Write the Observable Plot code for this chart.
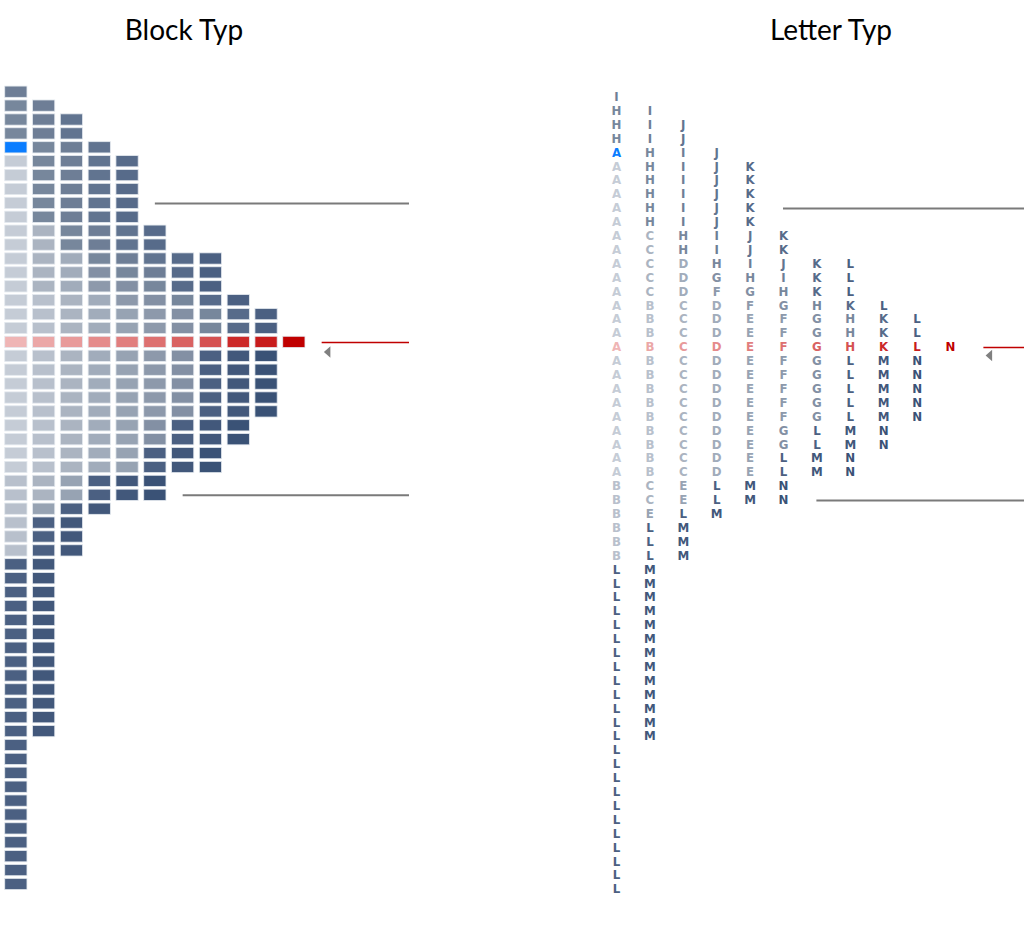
<!DOCTYPE html>
<html>
<head>
<meta charset="utf-8">
<script src="https://cdn.jsdelivr.net/npm/d3@7"></script>
<script src="https://cdn.jsdelivr.net/npm/@observablehq/plot@0.6"></script>
<style>
  html, body { margin: 0; padding: 0; background: #fff; }
  #root { position: relative; width: 1024px; height: 925px; overflow: hidden; }
  .title { position: absolute; top: 15px; font-family: Lato, "Open Sans", sans-serif; font-size: 28px; line-height: 28px; color: #000; text-align: center; }
  .panel { position: absolute; top: 80px; }
</style>
</head>
<body>
<div id="root">
  <div class="title" style="left:0px;width:368px;">Block Typ</div>
  <div class="title" style="left:640px;width:382px;">Letter Typ</div>
  <div class="panel" id="block" style="left:0px;"></div>
  <div class="panel" id="letter" style="left:590px;"></div>
</div>
<script>
// TPO periods in time order, with the highest and lowest price level (tick index) each traded
const periods    = ["A","B","C","D","E","F","G","H","I","J","K","L","M","N"];
const periodHigh = [53, 42, 47, 45, 41, 43, 44, 56, 57, 55, 52, 45, 38, 39];
const periodLow  = [30, 24, 28, 30, 27, 34, 32, 39, 44, 45, 39,  0, 11, 28];
const periodColors = ["#c5ccd6","#b8c0cc","#abb4c1","#a1acbb","#97a3b3","#8d99ab","#8390a4",
                      "#77879c","#6e7e96","#617490","#576b8a","#4b6082","#42587b","#3a5276"];
const pocColors    = ["#efb5b5","#eba7a7","#e89a9a","#e58b8b","#e17e7e","#dd7070","#d96262",
                      "#d55151","#d24444","#cf3838","#cc2929","#c81c1c","#c40e0e","#c00000"];
const pocLevel = 39;       // point of control
const vaHigh = 49;         // value area high
const vaLow = 28;          // value area low
const openLevel = 53;      // opening price (first TPO of A)
const openPeriod = "A";
const openColor = "#0a7dff";
const lineColor = "#7a7a7a";
const pocLineColor = "#c00000";

// Build TPO cells: for each level, periods that traded there, in time order
const maxLevel = d3.max(periodHigh), minLevel = d3.min(periodLow);
const cells = [];
const rowWidth = new Map();
for (let lv = maxLevel; lv >= minLevel; lv--) {
  let col = 0;
  periods.forEach((p, i) => {
    if (lv <= periodHigh[i] && lv >= periodLow[i]) {
      col++;
      let color = periodColors[i];
      if (lv === pocLevel) color = pocColors[i];
      else if (lv === openLevel && p === openPeriod) color = openColor;
      cells.push({level: lv, col, letter: p, color});
    }
  });
  rowWidth.set(lv, col);
}
const refLines = [
  {level: vaHigh, width: rowWidth.get(vaHigh), color: lineColor, sw: 2},
  {level: vaLow, width: rowWidth.get(vaLow), color: lineColor, sw: 2},
  {level: pocLevel, width: rowWidth.get(pocLevel), color: pocLineColor, sw: 1.5}
];
const pocMarker = [{level: pocLevel, width: rowWidth.get(pocLevel)}];

const leftTriangle = {
  draw(context, size) {
    const w = 6.5, h = 11.5;
    context.moveTo(-w / 2, 0);
    context.lineTo(w / 2, -h / 2);
    context.lineTo(w / 2, h / 2);
    context.closePath();
  }
};

const H = 830;
// Block panel
const blockX = [0.4299, 15.142];
const blockY = [-1.871, 57.842];
const block = Plot.plot({
  width: 409, height: H, margin: 0,
  x: {domain: blockX, axis: null},
  y: {domain: blockY, axis: null},
  color: {type: "identity"},
  marks: [
    Plot.rect(cells, {
      x1: d => d.col - 0.4, x2: d => d.col + 0.4,
      y1: d => d.level - 0.405, y2: d => d.level + 0.405,
      fill: "color", stroke: "#e4e9ef", strokeWidth: 0.8
    }),
    Plot.ruleY(refLines, {y: "level", x1: d => d.width + 1, x2: blockX[1], stroke: "color", strokeWidth: "sw"}),
    Plot.dot(pocMarker, {x: d => d.width + 1, y: "level", symbol: leftTriangle, fill: "#808080", stroke: "none", dx: 5, dy: 9.5})
  ]
});
document.getElementById("block").appendChild(block);

// Letter panel
const letterX = [0.2216, 13.216];
const letterY = [-1.504, 58.209];
const letter = Plot.plot({
  width: 434, height: H, margin: 0,
  x: {domain: letterX, axis: null},
  y: {domain: letterY, axis: null},
  color: {type: "identity"},
  style: {fontFamily: "'DejaVu Sans', sans-serif"},
  marks: [
    Plot.text(cells, {
      x: "col", y: "level", text: "letter", fill: "color",
      fontSize: 11.8, fontWeight: "bold", fontFamily: "'DejaVu Sans', sans-serif"
    }),
    Plot.ruleY(refLines, {y: "level", x1: d => d.width + 1, x2: letterX[1], stroke: "color", strokeWidth: "sw"}),
    Plot.dot(pocMarker, {x: d => d.width + 1, y: "level", symbol: leftTriangle, fill: "#808080", stroke: "none", dx: 5, dy: 8})
  ]
});
document.getElementById("letter").appendChild(letter);
</script>
</body>
</html>
